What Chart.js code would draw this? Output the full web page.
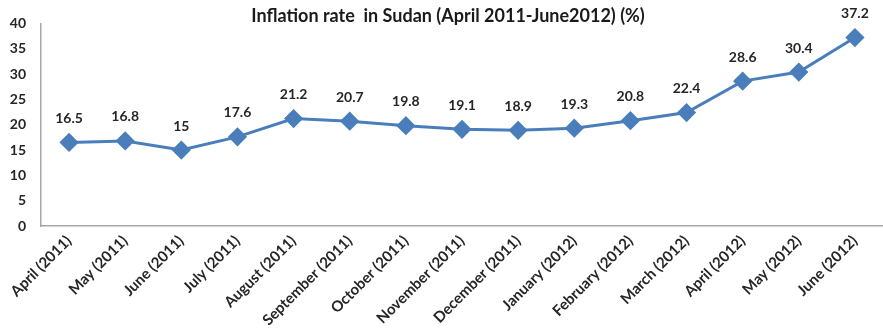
<!DOCTYPE html>
<html>
<head>
<meta charset="utf-8">
<script src="https://cdn.jsdelivr.net/npm/chart.js@4.4.1/dist/chart.umd.min.js"></script>
<style>
    html, body { margin: 0; padding: 0; background: #fff; }
    #wrap { width: 883px; height: 333px; }
</style>
</head>
<body>
<div id="wrap"><canvas id="inflationChart" width="883" height="333"></canvas></div>
<script>
const months = [
    "April (2011)", "May (2011)", "June (2011)", "July (2011)", "August (2011)",
    "September (2011)", "October (2011)", "November (2011)", "December (2011)",
    "January (2012)", "February (2012)", "March (2012)", "April (2012)",
    "May (2012)", "June (2012)"
];
const inflationRates = [16.5, 16.8, 15, 17.6, 21.2, 20.7, 19.8, 19.1, 18.9, 19.3, 20.8, 22.4, 28.6, 30.4, 37.2];
const yTicks = [0, 5, 10, 15, 20, 25, 30, 35, 40];

const titleText = "Inflation rate  in Sudan (April 2011-June2012) (%)";
const fontFamily = "Lato, 'Open Sans', sans-serif";
const lineBlue = "#4a7ebb";

// title and value labels are painted by hand so they sit where we want them
const labelsPlugin = {
    id: "labels",
    afterDatasetsDraw(chart) {
        const ctx = chart.ctx;
        const meta = chart.getDatasetMeta(0);
        ctx.save();
        ctx.fillStyle = "#262626";
        ctx.font = "bold 14px " + fontFamily;
        ctx.textAlign = "center";
        ctx.textBaseline = "middle";
        meta.data.forEach((pt, i) => {
            ctx.fillText(String(inflationRates[i]), pt.x, pt.y - 24);
        });
        ctx.font = "bold 18px " + fontFamily;
        ctx.fillStyle = "#1a1a1a";
        ctx.fillText(titleText, 448, 16);
        ctx.restore();
    }
};

new Chart(document.getElementById("inflationChart"), {
    type: "line",
    data: {
        labels: months,
        datasets: [{
            label: "Inflation rate",
            data: inflationRates,
            borderColor: lineBlue,
            backgroundColor: lineBlue,
            borderWidth: 3,
            pointStyle: "rectRot",
            pointRadius: 7.5,
            pointHoverRadius: 7.5,
            tension: 0
        }]
    },
    options: {
        responsive: false,
        animation: false,
        layout: {
            autoPadding: false,
            padding: { top: 23, right: -5, left: 0, bottom: 0 }
        },
        plugins: {
            legend: { display: false },
            tooltip: { enabled: false }
        },
        scales: {
            x: {
                offset: true,
                grid: { display: false, drawTicks: false },
                border: { display: true, color: "#a6a6a6", width: 1.5 },
                ticks: {
                    minRotation: 45,
                    maxRotation: 45,
                    padding: 6,
                    color: "#262626",
                    font: { family: fontFamily, size: 15, weight: "bold" }
                },
                afterFit(scale) {
                    scale.height = 107;
                    scale.paddingLeft = 0;
                    scale.paddingRight = 0;
                }
            },
            y: {
                min: 0,
                max: 40,
                afterBuildTicks(scale) { scale.ticks = yTicks.map(v => ({ value: v })); },
                grid: { display: false, drawTicks: false },
                border: { display: true, color: "#a6a6a6", width: 1.5 },
                ticks: {
                    padding: 15,
                    color: "#262626",
                    font: { family: fontFamily, size: 14, weight: "bold" }
                },
                afterFit(scale) { scale.width = 41; }
            }
        }
    },
    plugins: [labelsPlugin]
});
</script>
</body>
</html>
